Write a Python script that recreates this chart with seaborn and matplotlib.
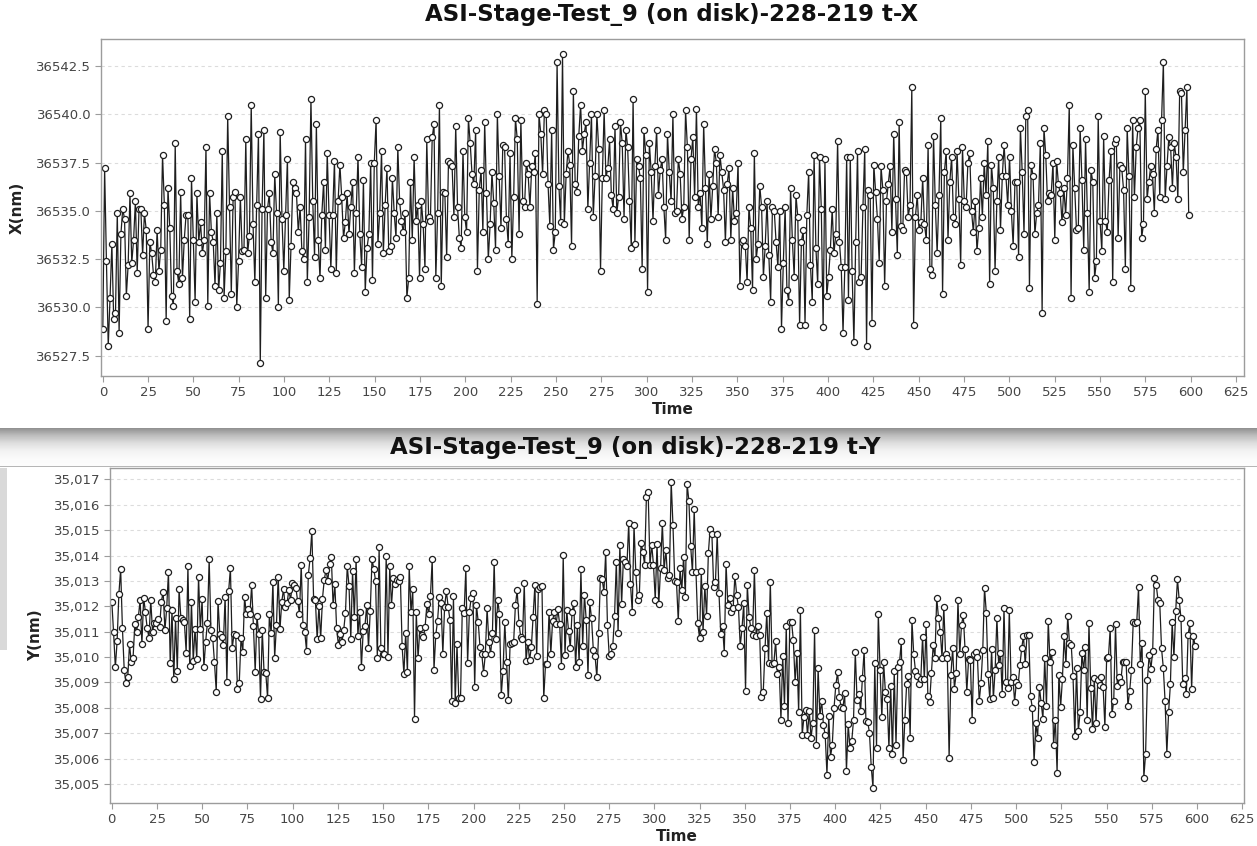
import numpy as np
import matplotlib
matplotlib.use("Agg")
import matplotlib.pyplot as plt
import seaborn as sns
from matplotlib.ticker import MultipleLocator, FuncFormatter
from matplotlib.colors import LinearSegmentedColormap

sns.set_theme(style="white")
plt.rcParams['font.family'] = ['DejaVu Sans']

# ---------------- data: X position (nm) over time ----------------
x_part1 = [36528.9, 36537.2, 36532.4, 36528.0, 36530.5, 36533.3, 36529.4, 36529.7, 36534.9, 36528.7,
           36533.8, 36535.1, 36534.6, 36530.6, 36532.2, 36535.9, 36532.3, 36533.5, 36535.5, 36531.8,
           36535.1, 36535.1, 36532.7, 36534.9, 36534.0, 36528.9, 36533.4, 36532.8, 36531.7, 36531.3,
           36534.0, 36531.9, 36533.0, 36537.9, 36535.3, 36529.3, 36536.2, 36534.1, 36530.6, 36530.1,
           36538.5, 36531.9, 36531.2, 36536.0, 36531.5, 36533.5, 36534.8, 36534.8, 36529.4, 36536.7,
           36533.5, 36530.3, 36535.9, 36533.4, 36534.4, 36532.8, 36533.5, 36538.3, 36530.1, 36535.9,
           36533.9, 36533.4, 36531.1, 36534.9, 36530.9, 36532.3, 36538.1, 36530.5, 36532.9, 36539.9,
           36535.2, 36530.7, 36535.7, 36536.0, 36530.0, 36532.4, 36535.7, 36532.9, 36533.0, 36538.7,
           36532.8, 36533.7, 36540.5, 36534.3, 36531.3, 36535.3, 36539.0, 36527.1, 36535.1, 36539.2,
           36530.5, 36535.1, 36535.9, 36533.4, 36532.8, 36536.9, 36534.9, 36530.0, 36539.1, 36534.6,
           36531.9, 36534.8, 36537.7, 36530.4]
x_part2 = [36533.2, 36536.5, 36536.2, 36535.9, 36533.9, 36535.2, 36532.9, 36532.5, 36538.7, 36531.3,
           36534.7, 36540.8, 36535.5, 36532.6, 36539.5, 36533.5, 36531.5, 36534.8, 36536.5, 36533.0,
           36538.0, 36534.8, 36532.0, 36534.8, 36537.6, 36531.8, 36535.5, 36537.4, 36535.7, 36533.6,
           36534.4, 36535.9, 36533.8, 36535.2, 36536.5, 36531.8, 36534.9, 36537.8, 36533.8, 36532.1,
           36536.6, 36530.8, 36533.1, 36533.8, 36537.5, 36531.4, 36537.5, 36539.7, 36533.3, 36534.9,
           36538.1, 36532.8, 36535.3, 36537.2, 36532.9, 36533.2, 36536.7, 36534.9, 36533.6, 36538.3,
           36535.5, 36534.5, 36533.9, 36534.9, 36530.5, 36531.5, 36536.5, 36533.5, 36537.8, 36534.5,
           36535.3, 36531.5, 36535.5, 36534.3, 36532.0, 36538.7, 36534.7, 36534.5, 36538.8, 36539.5,
           36531.5, 36534.9, 36540.5, 36531.1, 36536.0, 36535.9, 36532.6, 36537.6, 36537.5, 36537.3,
           36534.7, 36539.4, 36535.2, 36533.6, 36533.1, 36538.1, 36534.7, 36533.9, 36539.8, 36538.5,
           36536.9, 36536.4]
x_part3 = [36539.2, 36531.9, 36536.1, 36537.1, 36533.9, 36539.6, 36535.9, 36532.5, 36534.3, 36537.0,
           36535.4, 36533.0, 36540.0, 36536.8, 36534.1, 36538.4, 36538.3, 36534.6, 36533.3, 36538.0,
           36532.5, 36535.7, 36539.8, 36538.7, 36533.8, 36539.7, 36535.5, 36535.2, 36537.5, 36536.9,
           36535.2, 36537.3, 36537.0, 36538.0, 36530.2, 36540.0, 36539.0, 36536.9, 36540.2, 36540.0,
           36536.4, 36534.2, 36539.2, 36533.0, 36533.9, 36542.7, 36536.3, 36534.4, 36543.1, 36534.3,
           36536.9, 36538.1, 36537.4, 36533.2, 36541.2, 36536.4, 36536.0, 36538.9, 36540.5, 36538.1,
           36539.0, 36539.6, 36535.1, 36537.5, 36540.0, 36534.7, 36536.8, 36540.0, 36538.2, 36531.9,
           36536.7, 36540.2, 36536.7, 36537.2, 36538.7, 36535.8, 36535.1, 36539.4, 36534.9, 36535.7,
           36539.6, 36538.5, 36534.6, 36539.2, 36538.3, 36535.5, 36533.1, 36540.8, 36533.3, 36537.7,
           36537.3, 36536.7, 36532.0, 36539.2, 36537.9, 36530.8, 36538.5, 36537.0, 36534.5, 36537.3,
           36539.2, 36535.8]
x_part4 = [36537.1, 36537.7, 36535.2, 36533.5, 36539.0, 36537.0, 36535.5, 36540.0, 36534.9, 36535.0,
           36537.7, 36536.9, 36534.6, 36535.2, 36540.2, 36538.3, 36533.5, 36537.7, 36538.8, 36535.7,
           36540.3, 36535.2, 36535.9, 36534.1, 36539.5, 36536.2, 36533.3, 36536.9, 36534.6, 36536.3,
           36538.2, 36537.5, 36534.7, 36537.9, 36537.0, 36536.1, 36533.4, 36536.4, 36537.2, 36533.5,
           36536.2, 36534.5, 36534.9, 36537.5, 36531.1, 36533.4, 36533.5, 36533.2, 36531.3, 36535.2,
           36534.1, 36530.9, 36538.0, 36532.5, 36533.3, 36536.3, 36535.2, 36531.6, 36533.2, 36535.5,
           36532.7, 36530.3, 36535.2, 36535.0, 36533.4, 36532.1, 36535.0, 36528.9, 36532.3, 36535.2,
           36530.9, 36530.3, 36536.2, 36533.5, 36531.6, 36535.8, 36534.7, 36529.1, 36533.4, 36534.0,
           36529.1, 36534.8, 36537.0, 36532.2, 36530.3, 36537.9, 36533.1, 36531.2, 36537.8, 36535.1,
           36529.0, 36537.7, 36530.6, 36531.6, 36533.0, 36535.1, 36532.8, 36533.8, 36538.6, 36533.4,
           36532.1]
x_part5 = [36528.7, 36532.1, 36537.8, 36530.4, 36537.8, 36531.9, 36528.2, 36533.4, 36538.1, 36531.3,
           36531.6, 36535.2, 36538.2, 36528.0, 36536.1, 36535.8, 36529.2, 36537.4, 36536.0, 36534.6,
           36532.3, 36537.3, 36536.1, 36531.1, 36535.5, 36536.4, 36537.3, 36533.9, 36539.0, 36535.6,
           36532.7, 36539.6, 36534.2, 36534.0, 36537.1, 36537.0, 36534.7, 36535.3, 36541.4, 36529.1,
           36534.7, 36535.8, 36534.0, 36534.4, 36536.7, 36534.3, 36533.5, 36538.4, 36532.0, 36531.7,
           36538.9, 36535.3, 36532.8, 36535.8, 36539.8, 36530.7, 36537.0, 36538.1, 36533.5, 36536.5,
           36537.8, 36534.7, 36534.3, 36538.1, 36535.6, 36532.2, 36538.3, 36535.5, 36535.2, 36537.5,
           36538.0, 36535.0, 36533.9, 36535.5, 36532.9, 36534.1, 36536.7, 36534.7, 36537.5, 36535.8,
           36538.6, 36531.2, 36537.4, 36536.2, 36531.9, 36535.5, 36537.8, 36534.0, 36536.8, 36538.4,
           36536.8, 36535.3, 36537.8, 36535.0, 36533.2, 36536.5, 36536.5, 36532.6, 36539.3, 36537.0,
           36533.8, 36539.9, 36540.2, 36531.0]
x_part6 = [36537.4, 36536.8, 36533.8, 36534.9, 36535.3, 36538.5, 36529.7, 36539.3, 36537.9, 36535.5,
           36535.9, 36535.8, 36537.5, 36533.5, 36537.6, 36536.4, 36535.9, 36534.4, 36536.2, 36534.8,
           36536.7, 36540.5, 36530.5, 36538.4, 36536.2, 36534.0, 36534.1, 36539.3, 36536.6, 36533.0,
           36538.7, 36534.9, 36530.8, 36537.1, 36536.5, 36531.5, 36532.4, 36539.9, 36534.5, 36532.9,
           36538.9, 36534.5, 36533.9, 36536.6, 36538.1, 36531.3, 36538.5, 36538.7, 36533.6, 36537.4,
           36537.2, 36536.1, 36532.0, 36539.3, 36536.8, 36531.0, 36539.7, 36535.7, 36538.3, 36539.3,
           36539.7, 36533.6, 36534.3, 36541.2, 36535.6, 36536.5, 36537.3, 36536.9, 36534.9, 36538.2,
           36539.2, 36535.7, 36539.7, 36542.7, 36535.6, 36537.3, 36538.8, 36538.3, 36536.2, 36538.5,
           36537.8, 36535.6, 36541.2, 36541.1, 36537.0, 36539.2, 36541.4, 36534.8]

# ---------------- data: Y position (nm) over time ----------------
y_part1 = [35012.18, 35010.97, 35009.59, 35010.63, 35012.50, 35013.46, 35011.13, 35009.51, 35008.96, 35009.20,
           35010.50, 35009.79, 35009.96, 35011.29, 35010.97, 35011.58, 35012.25, 35010.50, 35012.34, 35011.76,
           35011.13, 35010.76, 35012.25, 35011.00, 35011.34, 35011.33, 35011.50, 35011.20, 35012.18, 35012.58,
           35011.06, 35011.92, 35013.36, 35009.75, 35011.85, 35009.12, 35011.52, 35009.45, 35012.68, 35011.55,
           35011.48, 35011.37, 35010.18, 35013.59, 35009.65, 35012.16, 35009.86, 35011.10, 35009.92, 35013.17,
           35011.09, 35012.27, 35009.59, 35010.59, 35011.35, 35013.86, 35011.06, 35010.76, 35009.79, 35008.63,
           35012.21, 35010.91, 35010.78, 35010.46, 35012.38, 35009.03, 35012.60, 35013.50, 35010.34, 35010.89,
           35010.87, 35008.74, 35008.99, 35010.76, 35010.21, 35012.37, 35011.70, 35011.89, 35011.70, 35012.84,
           35011.22, 35009.42, 35011.63, 35010.89, 35008.34, 35011.06, 35009.40, 35009.36, 35008.38, 35011.68,
           35010.93, 35012.97, 35009.97, 35011.26, 35013.17, 35011.09, 35012.18, 35012.67, 35011.98, 35012.12,
           35012.64, 35012.25, 35012.93, 35012.84]
y_part2 = [35012.71, 35012.22, 35011.70, 35013.63, 35011.26, 35011.00, 35010.25, 35013.23, 35013.89, 35014.97,
           35012.29, 35012.25, 35010.70, 35012.01, 35010.74, 35012.30, 35013.04, 35013.43, 35013.01, 35013.65,
           35013.96, 35012.04, 35012.86, 35011.13, 35010.47, 35010.91, 35010.58, 35011.06, 35011.75, 35013.59,
           35012.80, 35010.70, 35013.38, 35011.56, 35013.88, 35010.84, 35011.79, 35009.59, 35011.02, 35011.22,
           35012.05, 35010.34, 35011.83, 35013.86, 35013.47, 35013.01, 35009.95, 35014.32, 35010.34, 35010.11,
           35010.12, 35013.99, 35009.99, 35013.57, 35012.04, 35013.10, 35012.88, 35013.02, 35013.01, 35013.17,
           35010.43, 35009.33, 35010.95, 35009.40, 35013.57, 35011.76, 35012.68, 35007.56, 35011.76, 35009.95,
           35011.13, 35010.87, 35010.78, 35011.20, 35012.08, 35011.70, 35012.40, 35013.86, 35009.50, 35010.87,
           35011.42, 35012.38, 35012.12, 35010.12, 35011.98, 35012.60, 35011.98, 35011.48, 35008.27, 35012.42,
           35008.21, 35010.50, 35008.37, 35008.38, 35011.94, 35011.72, 35013.50, 35009.75, 35011.79, 35012.31,
           35012.54, 35008.83, 35012.05]
y_part3 = [35011.37, 35010.38, 35010.12, 35009.38, 35010.12, 35011.92, 35010.60, 35010.12, 35010.93, 35013.76,
           35010.70, 35012.25, 35011.70, 35008.50, 35009.46, 35011.37, 35009.79, 35008.29, 35010.53, 35010.57,
           35010.60, 35012.05, 35012.63, 35011.33, 35010.80, 35010.71, 35012.90, 35009.84, 35010.60, 35009.88,
           35010.38, 35011.58, 35012.83, 35010.05, 35012.68, 35012.75, 35012.79, 35008.37, 35009.72, 35009.72,
           35011.79, 35010.12, 35011.43, 35011.79, 35011.29, 35011.88, 35011.29, 35009.66, 35014.01, 35010.08,
           35011.84, 35011.04, 35010.37, 35011.79, 35012.12, 35009.59, 35011.26, 35009.79, 35013.46, 35010.43,
           35012.46, 35011.46, 35009.29, 35012.16, 35011.52, 35010.29, 35010.05, 35009.20, 35010.95, 35013.10,
           35013.06, 35012.58, 35014.13, 35011.25, 35010.05, 35010.12, 35010.43, 35011.62, 35013.76, 35010.93,
           35014.42, 35012.09, 35013.86, 35013.76, 35013.60, 35015.28, 35012.88, 35011.79, 35015.20, 35013.36,
           35012.23, 35012.44, 35014.51, 35014.15, 35013.63, 35016.32, 35016.49, 35013.63, 35014.42, 35013.63,
           35012.25, 35014.45, 35012.09]
y_part4 = [35013.50, 35015.30, 35013.43, 35014.22, 35013.10, 35013.23, 35016.91, 35015.20, 35013.01, 35012.94,
           35011.42, 35013.50, 35012.64, 35013.96, 35012.38, 35016.83, 35016.15, 35014.38, 35013.34, 35015.83,
           35013.36, 35011.33, 35010.76, 35013.39, 35011.00, 35012.80, 35011.62, 35014.10, 35015.05, 35014.84,
           35012.75, 35012.97, 35014.84, 35012.51, 35010.91, 35011.22, 35010.17, 35013.67, 35012.05, 35012.34,
           35011.79, 35011.94, 35013.21, 35012.44, 35011.96, 35010.43, 35011.13, 35012.12, 35008.67, 35012.84,
           35011.59, 35011.13, 35010.87, 35013.42, 35010.83, 35011.24, 35010.87, 35008.41, 35008.61, 35010.34,
           35011.75, 35009.75, 35012.97, 35009.72, 35009.75, 35010.63, 35009.33, 35009.59, 35007.54, 35010.05,
           35008.07, 35011.21, 35007.39, 35011.37, 35011.39, 35010.66, 35009.03, 35010.18, 35007.84, 35011.85,
           35006.93, 35007.65, 35007.91, 35006.93, 35007.88, 35006.82, 35007.42, 35011.05, 35006.53, 35009.55,
           35007.67, 35008.27, 35007.32, 35006.93, 35005.37, 35007.67, 35006.08, 35006.53, 35008.00, 35008.90,
           35009.40, 35008.42, 35008.04, 35008.00, 35008.57, 35005.51, 35007.35]
y_part5 = [35006.40, 35006.69, 35007.52, 35010.21, 35008.30, 35008.53, 35007.88, 35009.16, 35010.26, 35007.49,
           35007.45, 35007.02, 35005.68, 35004.85, 35009.75, 35006.43, 35011.71, 35009.49, 35007.62, 35009.79,
           35008.63, 35008.34, 35006.40, 35008.87, 35006.18, 35009.45, 35006.53, 35009.62, 35009.79, 35010.63,
           35005.94, 35007.52, 35008.92, 35009.26, 35006.82, 35011.46, 35010.13, 35009.45, 35009.26, 35008.92,
           35009.12, 35010.80, 35009.12, 35011.29, 35008.46, 35008.24, 35009.36, 35010.47, 35009.97, 35012.34,
           35011.55, 35011.00, 35009.97, 35011.98, 35010.11, 35009.97, 35006.01, 35009.29, 35010.34, 35008.76,
           35009.36, 35012.25, 35010.12, 35011.26, 35011.66, 35010.30, 35008.63, 35009.91, 35009.87, 35007.52,
           35010.14, 35010.21, 35009.99, 35008.27, 35008.96, 35010.26, 35012.73, 35011.75, 35009.33, 35008.33,
           35010.30, 35008.37, 35009.50, 35011.55, 35009.68, 35010.17, 35008.53, 35011.94, 35009.03, 35008.79,
           35011.85, 35009.03, 35009.22, 35008.24, 35009.03, 35008.90, 35009.68, 35010.34, 35010.84, 35009.71,
           35010.87, 35010.87, 35008.46, 35008.00, 35005.87, 35007.39, 35006.82]
y_part6 = [35008.83, 35008.21, 35007.56, 35009.97, 35008.08, 35011.42, 35009.82, 35010.21, 35006.53, 35007.54,
           35005.45, 35009.29, 35008.04, 35009.13, 35010.84, 35009.71, 35011.62, 35010.54, 35010.47, 35009.24,
           35006.90, 35009.55, 35007.08, 35007.84, 35010.17, 35009.49, 35010.38, 35007.52, 35011.33, 35008.80,
           35007.16, 35009.16, 35007.39, 35009.09, 35008.90, 35009.20, 35008.83, 35007.25, 35009.97, 35009.99,
           35011.13, 35007.75, 35008.27, 35011.29, 35008.87, 35009.22, 35009.03, 35009.79, 35009.82, 35009.79,
           35008.08, 35008.66, 35009.49, 35011.37, 35011.33, 35011.37, 35012.75, 35009.71, 35010.54, 35005.25,
           35006.20, 35009.09, 35010.08, 35009.53, 35010.24, 35013.13, 35012.84, 35012.25, 35012.12, 35010.34,
           35009.58, 35008.27, 35006.20, 35007.84, 35008.92, 35011.37, 35009.99, 35011.81, 35013.07, 35012.23,
           35011.52, 35008.92, 35009.16, 35008.53, 35010.87, 35011.33, 35008.74, 35010.83, 35010.42]

title_x = "ASI-Stage-Test_9 (on disk)-228-219 t-X"
title_y = "ASI-Stage-Test_9 (on disk)-228-219 t-Y"
time_start, time_end = 0, 599

x_nm = np.concatenate([x_part1, x_part2, x_part3, x_part4, x_part5, x_part6])
y_nm = np.concatenate([y_part1, y_part2, y_part3, y_part4, y_part5, y_part6])
time_x = np.linspace(time_start, time_end, len(x_nm))
time_y = np.linspace(time_start, time_end, len(y_nm))

# ---------------- figure ----------------
W, H = 1257, 846
fig = plt.figure(figsize=(W / 100, H / 100), dpi=100)
fig.patch.set_facecolor('white')


def rect(l, t, r, b):
    return [l / W, 1 - b / H, (r - l) / W, (b - t) / H]


# title bar of the lower panel (grey gradient)
ax_bar = fig.add_axes(rect(0, 428, W, 467))
grad = np.linspace(0, 1, 60).reshape(-1, 1)
cmap_bar = LinearSegmentedColormap.from_list(
    'bar', ['#8c8c8c', '#bcbcbc', '#dedede', '#f3f3f3', '#fbfbfb', '#fdfdfd'])
ax_bar.imshow(grad, aspect='auto', cmap=cmap_bar, extent=[0, 1, 0, 1])
ax_bar.axhline(0.01, color='#a8a8a8', lw=1.2)
ax_bar.set_xlim(0, 1)
ax_bar.set_ylim(0, 1)
ax_bar.axis('off')

# thin grey strip at the far left of the lower panel
ax_strip = fig.add_axes(rect(0, 468, 7, 650))
ax_strip.set_facecolor('#d9d9d9')
ax_strip.set_xticks([])
ax_strip.set_yticks([])
for s in ax_strip.spines.values():
    s.set_visible(False)

ax1 = fig.add_axes(rect(101, 39, 1244, 376))
ax2 = fig.add_axes(rect(110, 468, 1244, 803))

line_kw = dict(color='#1e1e1e', linewidth=0.9, marker='o', markersize=4.4,
               markerfacecolor='white', markeredgecolor='#1e1e1e',
               markeredgewidth=0.9, estimator=None, sort=False)

sns.lineplot(x=time_x, y=x_nm, ax=ax1, **line_kw)
sns.lineplot(x=time_y, y=y_nm, ax=ax2, **line_kw)

for ax in (ax1, ax2):
    ax.set_facecolor('white')
    for s in ax.spines.values():
        s.set_color('#9c9c9c')
        s.set_linewidth(1.0)
    ax.xaxis.set_major_locator(MultipleLocator(25))
    ax.tick_params(axis='both', which='major', direction='out', length=4,
                   width=0.8, color='#9c9c9c', labelcolor='#454545', labelsize=9.5,
                   bottom=True, left=True, pad=3)
    ax.grid(axis='y', color='#dcdcdc', linestyle=(0, (3, 3)), linewidth=0.8)
    ax.grid(axis='x', visible=False)
    ax.set_xlabel('Time', fontsize=11, fontweight='bold', color='#222222', labelpad=2)

ax1.set_xlim(-1, 629.5)
ax1.set_ylim(36526.45, 36543.9)
ax1.yaxis.set_major_locator(MultipleLocator(2.5))
ax1.yaxis.set_major_formatter(FuncFormatter(lambda v, p: f"{v:.1f}"))
ax1.set_ylabel('X(nm)', fontsize=11, fontweight='bold', color='#222222', labelpad=8)

ax2.set_xlim(-1, 626)
ax2.set_ylim(35004.25, 35017.45)
ax2.yaxis.set_major_locator(MultipleLocator(1))
ax2.yaxis.set_major_formatter(FuncFormatter(lambda v, p: f"{v:,.0f}"))
ax2.set_ylabel('Y(nm)', fontsize=11, fontweight='bold', color='#222222', labelpad=8)

fig.text(672 / W, 1 - 14 / H, title_x, ha='center', va='center',
         fontsize=16.5, fontweight='bold', color='#111111')
fig.text(635 / W, 1 - 447 / H, title_y, ha='center', va='center',
         fontsize=16.5, fontweight='bold', color='#111111')

fig.savefig('out.png', dpi=100, facecolor='white')
